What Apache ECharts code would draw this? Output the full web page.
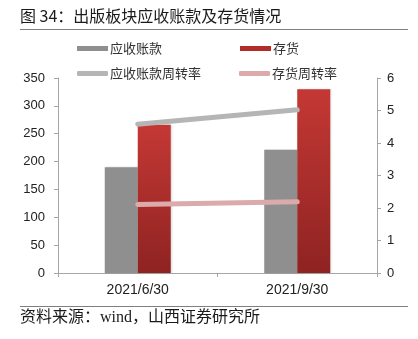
<!DOCTYPE html>
<html><head><meta charset="utf-8">
<script src="https://cdn.jsdelivr.net/npm/echarts@6/dist/echarts.min.js"></script>
<style>html,body{margin:0;padding:0;background:#fff}#c{width:418px;height:339px}</style>
</head><body><div id="c"></div>
<script>
const categories = ['2021/6/30', '2021/9/30'];
const receivables = [190, 221];
const inventory = [266, 330];
const receivableTurnover = [4.58, 5.02];
const inventoryTurnover = [2.11, 2.19];
const leftTicks = [0, 350, 50];
const rightTicks = [0, 6, 1];

const cjk = '"Noto Sans CJK SC", sans-serif';
const chart = echarts.init(document.getElementById('c'));
const axisLineStyle = { color: '#a6a6a6', width: 1 };
const lbl = { color: '#222', fontSize: 13, fontFamily: '"Liberation Sans", Arial, sans-serif' };
const legendBase = { orient: 'horizontal', itemWidth: 31, itemHeight: 5, textStyle: { fontSize: 13, color: '#333', fontFamily: cjk, padding: [0,0,0,-3] }, selectedMode: false };
chart.setOption({
  animation: false,
  grid: { left: 58, right: 41, top: 78, bottom: 66 },
  legend: [
    Object.assign({}, legendBase, { left: 72, top: 37, data: [{ name: '应收账款', icon: 'rect' }] }),
    Object.assign({}, legendBase, { left: 235, top: 37, data: [{ name: '存货', icon: 'rect', itemStyle: { color: '#b22d2a' } }] }),
    Object.assign({}, legendBase, { left: 72, top: 62, data: [{ name: '应收账款周转率', icon: 'roundRect' }] }),
    Object.assign({}, legendBase, { left: 234, top: 62, data: [{ name: '存货周转率', icon: 'roundRect' }] })
  ],
  xAxis: {
    type: 'category', data: categories, boundaryGap: true,
    axisLine: { lineStyle: axisLineStyle },
    axisTick: { show: true, length: 4, lineStyle: axisLineStyle },
    axisLabel: Object.assign({}, lbl, { fontSize: 14, margin: 10 })
  },
  yAxis: [
    { type: 'value', min: leftTicks[0], max: leftTicks[1], interval: leftTicks[2],
      axisLine: { show: true, lineStyle: axisLineStyle },
      axisTick: { show: true, length: 4, lineStyle: axisLineStyle },
      splitLine: { show: false },
      axisLabel: Object.assign({}, lbl, { margin: 13 }) },
    { type: 'value', min: rightTicks[0], max: rightTicks[1], interval: rightTicks[2], position: 'right',
      axisLine: { show: true, lineStyle: axisLineStyle },
      axisTick: { show: true, length: 4, lineStyle: axisLineStyle },
      splitLine: { show: false },
      axisLabel: Object.assign({}, lbl, { margin: 10 }) }
  ],
  series: [
    { name: '应收账款', type: 'bar', data: receivables, barWidth: 33, barGap: '0%',
      itemStyle: { color: '#8f8f8f', shadowColor: 'rgba(0,0,0,0.15)', shadowBlur: 2, shadowOffsetX: 1 } },
    { name: '存货', type: 'bar', data: inventory, barWidth: 33, barGap: '0%',
      itemStyle: { color: new echarts.graphic.LinearGradient(0, 0, 0, 1, [
        { offset: 0, color: '#c43834' }, { offset: 1, color: '#8e2322' }]),
        shadowColor: 'rgba(0,0,0,0.15)', shadowBlur: 2, shadowOffsetX: 1 } },
    { name: '应收账款周转率', type: 'line', yAxisIndex: 1, data: receivableTurnover, symbol: 'none',
      itemStyle: { color: '#b5b5b5' }, lineStyle: { color: '#b5b5b5', width: 5, cap: 'round' }, z: 5 },
    { name: '存货周转率', type: 'line', yAxisIndex: 1, data: inventoryTurnover, symbol: 'none',
      itemStyle: { color: '#dcaaaa' }, lineStyle: { color: '#dcaaaa', width: 5, cap: 'round' }, z: 5 }
  ],
  graphic: [
    { type: 'text', left: 20, top: 8, style: { text: '图 34：出版板块应收账款及存货情况', font: '16px ' + cjk, fill: '#1a1a1a' } },
    { type: 'line', shape: { x1: 20, y1: 29.5, x2: 408, y2: 29.5 }, style: { stroke: '#7f7f7f', lineWidth: 1.2 } },
    { type: 'line', shape: { x1: 20, y1: 306.5, x2: 408, y2: 306.5 }, style: { stroke: '#7f7f7f', lineWidth: 1.2 } },
    { type: 'text', left: 20, top: 310, style: { text: '资料来源：wind，山西证券研究所', font: '16px "Liberation Serif", ' + cjk, fill: '#1a1a1a' } }
  ]
});
</script></body></html>
